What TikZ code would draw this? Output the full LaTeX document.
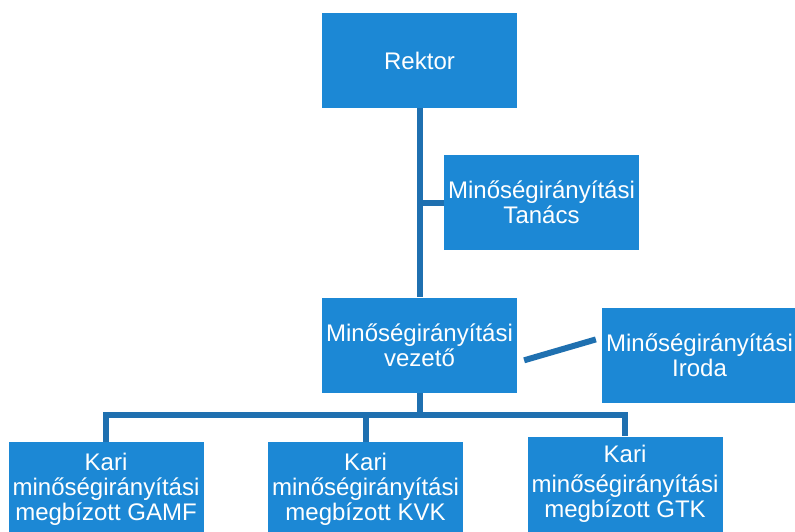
\documentclass[tikz,border=0pt]{standalone}
\usepackage{fontspec}
\setmainfont{Liberation Sans}
\usetikzlibrary{positioning}
\definecolor{boxblue}{HTML}{1C88D5}
\definecolor{lineblue}{HTML}{1F70B0}
\begin{document}
\begin{tikzpicture}[x=0.5pt,y=-0.5pt,
  unit/.style={rectangle,fill=boxblue,text=white,align=center,
    minimum width=97.5pt,minimum height=47.5pt,inner sep=0pt,
    font=\fontsize{12}{12.5}\selectfont},
  link/.style={draw=lineblue,line width=3pt}]
\clip (0,0) rectangle (795,531);
\node[unit] (rektor) at (419.5,60.5) {Rektor};
\node[unit] (tanacs) at (541.5,202.5) {Minőségirányítási\\Tanács};
\node[unit] (vezeto) at (419.5,345) {Minőségirányítási\\vezető};
\node[unit] (iroda) at (699.5,355) {Minőségirányítási\\Iroda};
\node[unit] (gamf) at (106,489.5) {Kari\\minőségirányítási\\megbízott GAMF};
\node[unit] (kvk) at (365.5,489.5) {Kari\\minőségirányítási\\megbízott KVK};
\node[unit] (gtk) at (625,484) {Kari\\[2.5pt]minőségirányítási\\megbízott GTK};
\coordinate (bus) at (419.5,415);
 \draw[link] (rektor) -- (vezeto);
 \draw[link] (tanacs.west) -- (tanacs.west -| rektor.south);
 \draw[link,shorten <=3.5pt,shorten >=3pt] (vezeto.-10) -- (iroda.170);
 \draw[link] (vezeto) -- (bus);
 \draw[link] (gamf) |- (bus) -| (gtk);
 \draw[link] (kvk) -- (kvk |- bus);
\end{tikzpicture}
\end{document}
